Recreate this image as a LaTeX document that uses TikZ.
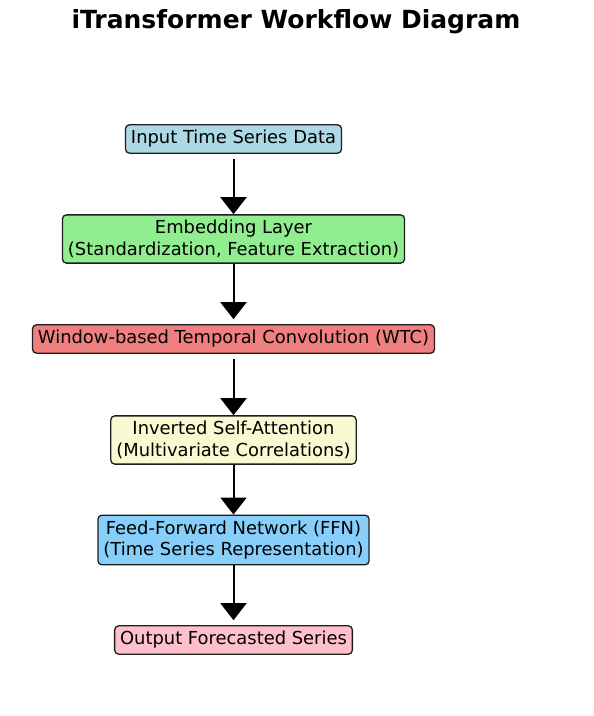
\documentclass[tikz,border=0pt]{standalone}
\usepackage{fontspec}
\setmainfont{DejaVu Sans}
\usepackage{tikz}
\usetikzlibrary{arrows.meta}
\usetikzlibrary{calc}
\definecolor{InBlue}{RGB}{173,216,230}
\definecolor{EmbGreen}{RGB}{144,238,144}
\definecolor{WtcCoral}{RGB}{240,128,128}
\definecolor{AttYellow}{RGB}{250,250,210}
\definecolor{FfnSky}{RGB}{135,206,250}
\definecolor{OutPink}{RGB}{255,192,203}
\definecolor{EdgeGray}{RGB}{30,30,30}
\tikzset{
  stage/.style={draw=EdgeGray,line width=1.3pt,rounded corners=4pt,align=center,
    inner xsep=5.5pt,inner ysep=5.5pt,font=\fontsize{17.9pt}{21.3pt}\selectfont},
  flow/.style={line width=2pt,-{Triangle[width=26pt,length=17pt]}}
}

\begin{document}
\begin{tikzpicture}[x=1pt,y=1pt]
      \useasboundingbox[fill=white] (0,0) rectangle (594,-716);
      \node[anchor=base,font=\fontsize{25pt}{30pt}\selectfont\bfseries] (title) at (296,-28) {iTransformer Workflow Diagram};
      \node[stage,fill=InBlue] (input) at (233.5,-139) {Input Time Series Data};
      \node[stage,fill=EmbGreen] (embed) at (233.5,-239) {Embedding Layer\\(Standardization, Feature Extraction)};
      \node[stage,fill=WtcCoral] (wtc) at (233.5,-339) {Window-based Temporal Convolution (WTC)};
      \node[stage,fill=AttYellow] (attn) at (233.5,-440) {Inverted Self-Attention\\(Multivariate Correlations)};
      \node[stage,fill=FfnSky] (ffn) at (233.5,-540) {Feed-Forward Network (FFN)\\(Time Series Representation)};
      \node[stage,fill=OutPink] (output) at (233.5,-640) {Output Forecasted Series};
      \draw[flow,shorten <=5pt] (input.south) -- (embed.north);
      \draw[flow,shorten >=5pt] (embed.south) -- (wtc.north);
      \draw[flow,shorten <=5pt] (wtc.south) -- (attn.north);
      \draw[flow] (attn.south) -- (ffn.north);
      \draw[flow,shorten >=5pt] (ffn.south) -- (output.north);
    \end{tikzpicture}
\end{document}
